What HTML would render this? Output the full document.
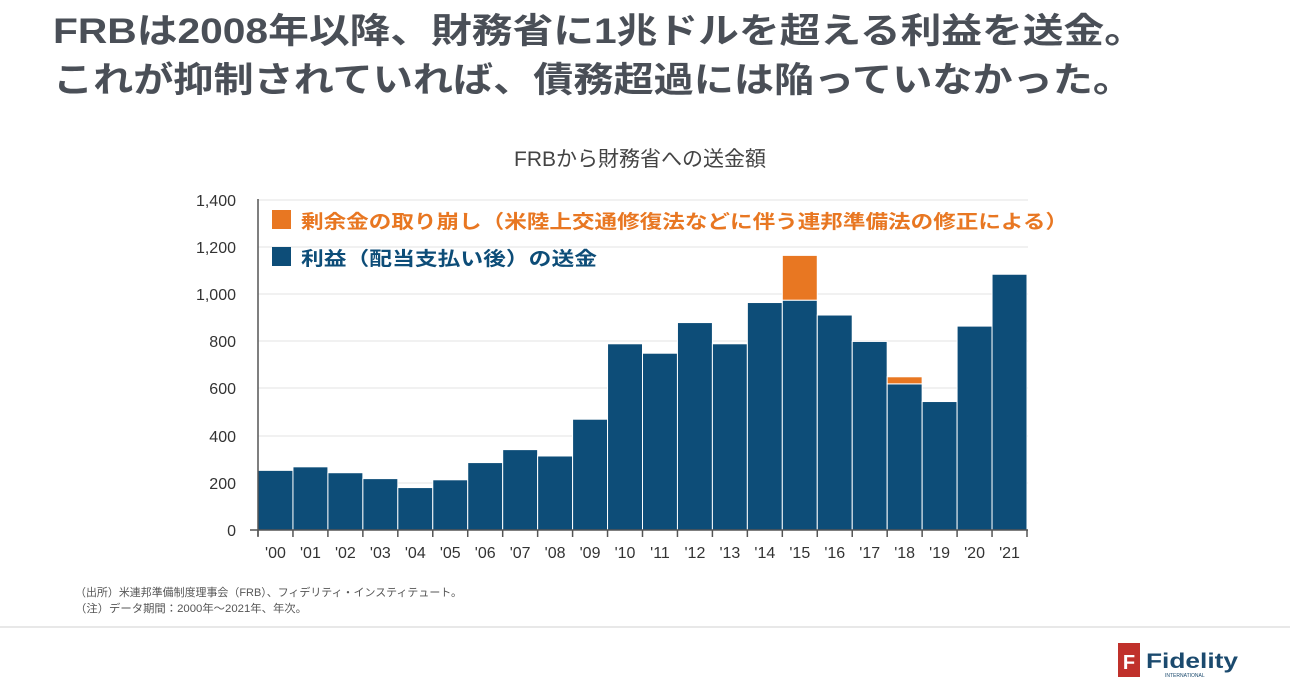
<!DOCTYPE html>
<html><head><meta charset="utf-8"><style>
html,body{margin:0;padding:0;background:#fff;}
svg{display:block;font-family:"Liberation Sans","Noto Sans CJK JP",sans-serif;}
</style></head><body>
<svg width="1290" height="692" viewBox="0 0 1290 692" xmlns="http://www.w3.org/2000/svg">
<g fill="#4a4f57" font-weight="bold" font-size="35">
<text x="53" y="43" textLength="1092" lengthAdjust="spacingAndGlyphs">FRBは2008年以降、財務省に1兆ドルを超える利益を送金。</text>
<text x="53" y="92" textLength="1080" lengthAdjust="spacingAndGlyphs">これが抑制されていれば、債務超過には陥っていなかった。</text>
</g>
<text x="640" y="166" text-anchor="middle" font-size="21" fill="#444">FRBから財務省への送金額</text>
<g stroke="#e3e3e3" stroke-width="1">
<line x1="258" x2="1028" y1="483" y2="483"/><line x1="258" x2="1028" y1="436" y2="436"/>
<line x1="258" x2="1028" y1="388" y2="388"/><line x1="258" x2="1028" y1="341" y2="341"/>
<line x1="258" x2="1028" y1="294" y2="294"/><line x1="258" x2="1028" y1="247" y2="247"/>
<line x1="258" x2="1028" y1="200" y2="200"/>
</g>
<g font-size="16" fill="#333" text-anchor="end">
<text x="236" y="536">0</text><text x="236" y="489">200</text><text x="236" y="442">400</text>
<text x="236" y="394">600</text><text x="236" y="347">800</text><text x="236" y="300">1,000</text>
<text x="236" y="253">1,200</text><text x="236" y="206">1,400</text>
</g>
<g id="bars" fill="#0d4d78" stroke="#fff" stroke-width="1"></g>
<g stroke="#555" stroke-width="1.5" id="axis">
<line x1="258" y1="199" x2="258" y2="536"/><line x1="250" y1="530" x2="1028" y2="530"/>
</g>
<g id="xl" font-size="16" fill="#333" text-anchor="middle"></g>
<rect x="272" y="210" width="19" height="19" fill="#e87722"/>
<text x="301" y="228" font-size="19" font-weight="bold" fill="#e87722" textLength="767" lengthAdjust="spacingAndGlyphs">剰余金の取り崩し（米陸上交通修復法などに伴う連邦準備法の修正による）</text>
<rect x="272" y="247" width="19" height="19" fill="#0d4d78"/>
<text x="301" y="265" font-size="19" font-weight="bold" fill="#0d4d78" textLength="296" lengthAdjust="spacingAndGlyphs">利益（配当支払い後）の送金</text>
<g font-size="11" fill="#555">
<text x="75" y="596" textLength="387" lengthAdjust="spacingAndGlyphs">（出所）米連邦準備制度理事会（FRB）、フィデリティ・インスティテュート。</text>
<text x="75" y="612" textLength="232" lengthAdjust="spacingAndGlyphs">（注）データ期間：2000年～2021年、年次。</text>
</g>
<line x1="0" y1="627" x2="1290" y2="627" stroke="#e8e8e8" stroke-width="2"/>
<rect x="1118" y="643" width="22" height="34" fill="#c0312b"/>
<text x="1129" y="669" font-size="20" font-weight="bold" fill="#fff" text-anchor="middle">F</text>
<text x="1146" y="668" font-size="21" font-weight="bold" fill="#1b4a6e" textLength="92" lengthAdjust="spacingAndGlyphs">Fidelity</text>
<text x="1165" y="677" font-size="5" fill="#1b4a6e">INTERNATIONAL</text>
</svg>
<script>
var v=[253,268,243,218,180,213,286,341,314,470,790,750,880,790,965,975,912,800,620,545,865,1085];
var o={15:1165,18:650};
var ns="http://www.w3.org/2000/svg",b=document.getElementById('bars'),xl=document.getElementById('xl'),ax=document.getElementById('axis');
var x0=258,w=(1027-258)/22,k=330/1400;
function el(t,a,p){var e=document.createElementNS(ns,t);for(var i in a)e.setAttribute(i,a[i]);p.appendChild(e);return e;}
for(var i=0;i<22;i++){
 var x=x0+i*w,y=530-v[i]*k;
 el('rect',{x:x,y:y,width:w,height:530-y},b);
 if(o[i]){var y2=530-o[i]*k;el('rect',{x:x,y:y2,width:w,height:y-y2,fill:'#e87722'},b);}
 var t=el('text',{x:x+w/2,y:558},xl);t.textContent="'"+(i<10?"0"+i:i);
 el('line',{x1:x,y1:530,x2:x,y2:537},ax);
}
el('line',{x1:1027,y1:530,x2:1027,y2:537},ax);
</script>
</body></html>
